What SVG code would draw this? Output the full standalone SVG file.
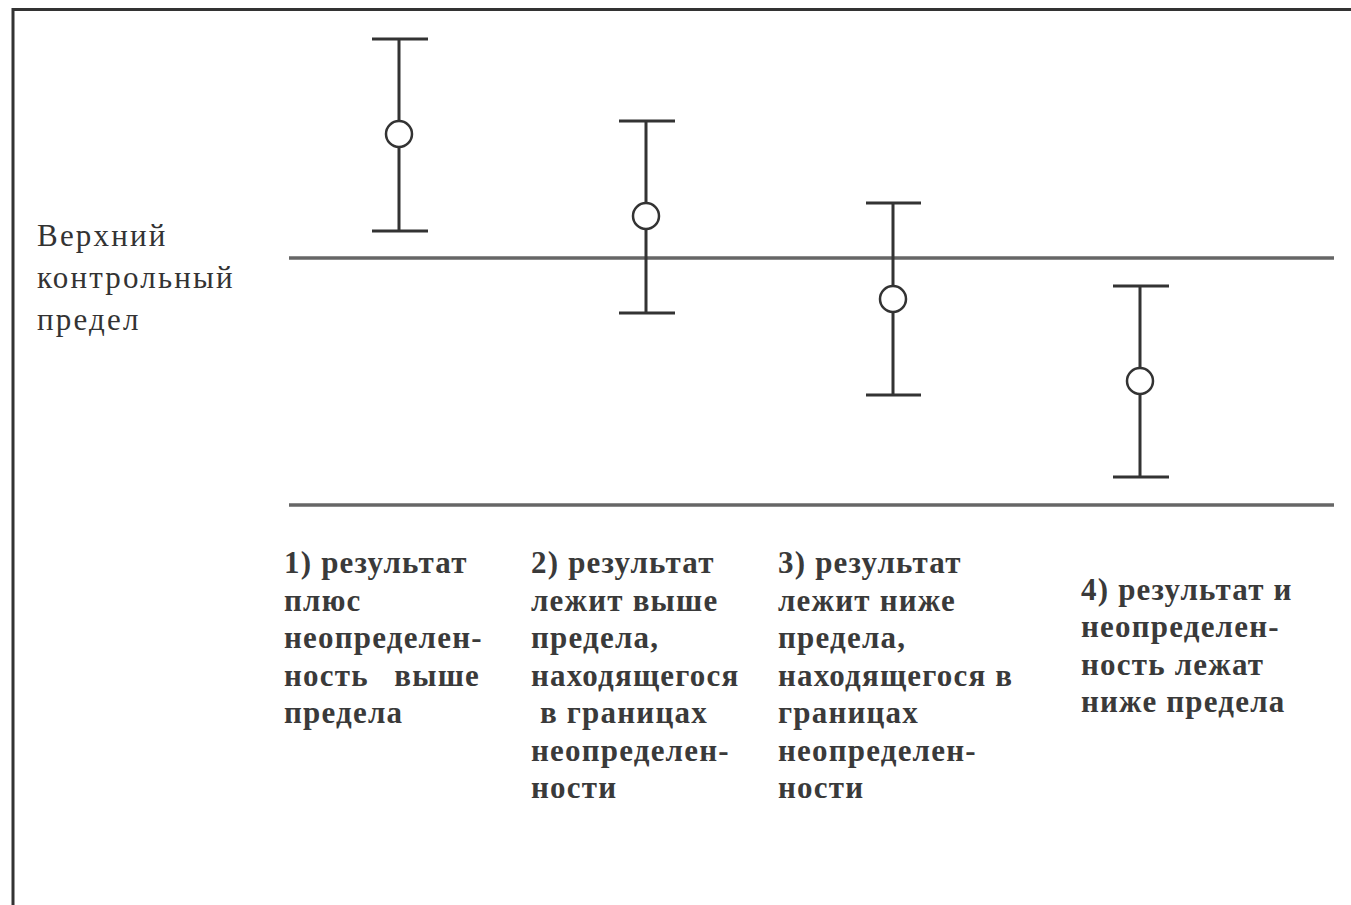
<svg xmlns="http://www.w3.org/2000/svg" width="1351" height="905" viewBox="0 0 1351 905">
<style>
.t{font-family:"Liberation Serif","Times New Roman",serif;font-size:31px;font-weight:bold;letter-spacing:1.2px;fill:#3a3a3a;}
.l{font-family:"Liberation Serif","Times New Roman",serif;font-size:31px;letter-spacing:2.2px;fill:#333;}
.bar{stroke:#333;stroke-width:3;fill:none;}
.pt{stroke:#333;stroke-width:2.5;fill:#fff;}
.lim{stroke:#666;stroke-width:3.5;}
</style>
<rect x="0" y="0" width="1351" height="905" fill="#fff"/>
<g id="frame"><path d="M13 905 V9.5 H1351" fill="none" stroke="#333" stroke-width="3"/></g>
<g id="connectors">
<line class="lim" x1="289" y1="258" x2="1334" y2="258"/>
<line class="lim" x1="289" y1="505" x2="1334" y2="505"/>
</g>
<g id="bar1">
<path class="bar" d="M372 39 H428 M399 39 V231 M372 231 H428"/>
<circle class="pt" cx="399" cy="134" r="13"/>
</g>
<g id="bar2">
<path class="bar" d="M619 121 H675 M646 121 V313 M619 313 H675"/>
<circle class="pt" cx="646" cy="216" r="13"/>
</g>
<g id="bar3">
<path class="bar" d="M866 203 H921 M893 203 V395 M866 395 H921"/>
<circle class="pt" cx="893" cy="299" r="13"/>
</g>
<g id="bar4">
<path class="bar" d="M1113 286 H1169 M1140 286 V477 M1113 477 H1169"/>
<circle class="pt" cx="1140" cy="381" r="13"/>
</g>
<g id="label-limit">
<text class="l" x="37" y="246">Верхний</text>
<text class="l" x="37" y="288">контрольный</text>
<text class="l" x="37" y="330">предел</text>
</g>
<g id="caption1">
<text class="t" x="284" y="573">1) результат</text>
<text class="t" x="284" y="611">плюс</text>
<text class="t" x="284" y="648">неопределен-</text>
<text class="t" x="284" y="686">ность</text>
<text class="t" x="480" y="686" text-anchor="end">выше</text>
<text class="t" x="284" y="723">предела</text>
</g>
<g id="caption2">
<text class="t" x="531" y="573">2) результат</text>
<text class="t" x="531" y="611">лежит выше</text>
<text class="t" x="531" y="648">предела,</text>
<text class="t" x="531" y="686">находящегося</text>
<text class="t" x="531" y="723" xml:space="preserve"> в границах</text>
<text class="t" x="531" y="761">неопределен-</text>
<text class="t" x="531" y="798">ности</text>
</g>
<g id="caption3">
<text class="t" x="778" y="573">3) результат</text>
<text class="t" x="778" y="611">лежит ниже</text>
<text class="t" x="778" y="648">предела,</text>
<text class="t" x="778" y="686">находящегося в</text>
<text class="t" x="778" y="723">границах</text>
<text class="t" x="778" y="761">неопределен-</text>
<text class="t" x="778" y="798">ности</text>
</g>
<g id="caption4">
<text class="t" x="1081" y="600">4) результат и</text>
<text class="t" x="1081" y="637">неопределен-</text>
<text class="t" x="1081" y="675">ность лежат</text>
<text class="t" x="1081" y="712">ниже предела</text>
</g>
</svg>
